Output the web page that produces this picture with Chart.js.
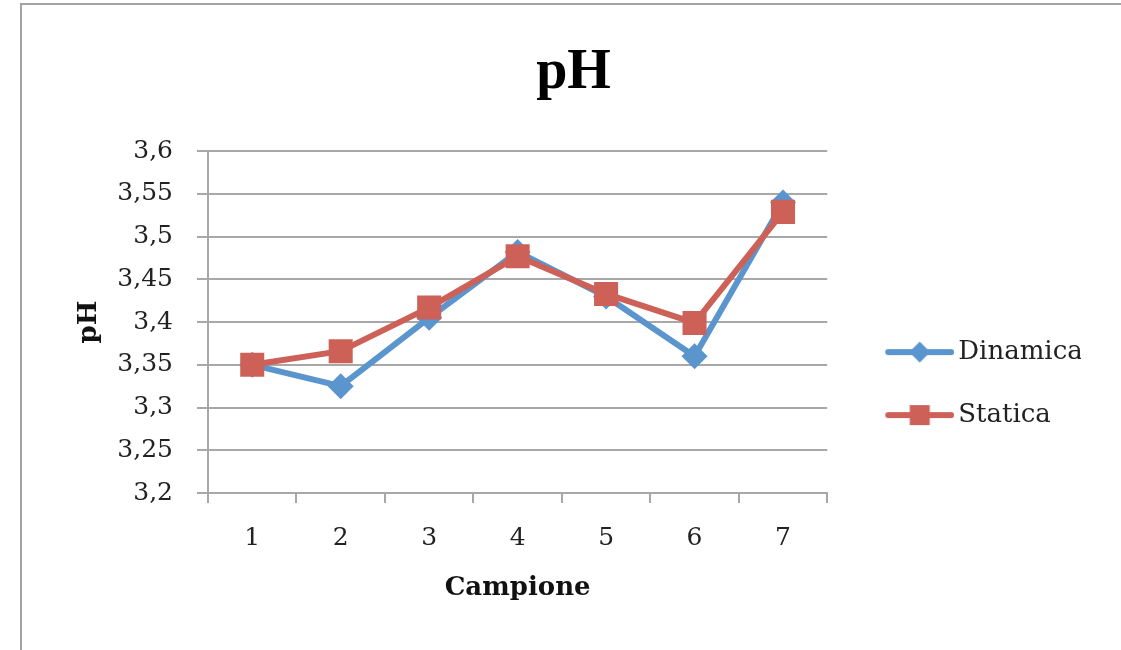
<!DOCTYPE html>
<html>
<head>
<meta charset="utf-8">
<title>pH</title>
<script src="https://cdn.jsdelivr.net/npm/chart.js@4.4.1/dist/chart.umd.min.js"></script>
<style>
  html, body { margin: 0; padding: 0; background: #fff; overflow: hidden; }
  #frame {
    position: absolute; left: 20px; top: 3px;
    width: 1099px; height: 645px;
    border-left: 2px solid #a3a3a3; border-top: 2px solid #a3a3a3;
    overflow: hidden;
  }
  canvas { display: block; }
</style>
</head>
<body>
<div id="frame"><canvas id="phChart" width="1099" height="645"></canvas></div>
<script>
// ===== Data =====
const campioni = ['1', '2', '3', '4', '5', '6', '7'];
const dinamica = [3.35, 3.325, 3.405, 3.482, 3.43, 3.36, 3.54];
const statica = [3.35, 3.366, 3.417, 3.477, 3.433, 3.399, 3.529];
const yTicks = [3.2, 3.25, 3.3, 3.35, 3.4, 3.45, 3.5, 3.55, 3.6];

const BLUE = '#5a95cd';
const RED = '#cd6158';
const GRID = '#a8a8a8';
const TEXT = '#222';
const SERIF = "'DejaVu Serif', serif";

// legend icon = short line with the marker in the middle (spreadsheet style)
function legendIcon(color, shape) {
  const c = document.createElement('canvas');
  c.width = 99;
  c.height = 24;
  const ctx = c.getContext('2d');
  ctx.strokeStyle = color;
  ctx.fillStyle = color;
  ctx.lineWidth = 6;
  ctx.lineCap = 'round';
  ctx.beginPath();
  ctx.moveTo(33, 12);
  ctx.lineTo(96, 12);
  ctx.stroke();
  ctx.beginPath();
  if (shape === 'diamond') {
    ctx.moveTo(64.5, 1.5);
    ctx.lineTo(75, 12);
    ctx.lineTo(64.5, 22.5);
    ctx.lineTo(54, 12);
    ctx.closePath();
  } else {
    ctx.rect(54.5, 2, 20, 20);
  }
  ctx.fill();
  return c;
}

const legendIcons = [legendIcon(BLUE, 'diamond'), legendIcon(RED, 'square')];

// ===== Chart =====
new Chart(document.getElementById('phChart'), {
  type: 'line',
  data: {
    labels: campioni,
    datasets: [
      {
        label: 'Dinamica',
        data: dinamica,
        borderColor: BLUE,
        backgroundColor: BLUE,
        borderWidth: 6,
        borderJoinStyle: 'round',
        pointStyle: 'rectRot',
        pointRadius: 13,
        pointBorderWidth: 0,
        order: 1 // drawn below Statica
      },
      {
        label: 'Statica',
        data: statica,
        borderColor: RED,
        backgroundColor: RED,
        borderWidth: 6,
        borderJoinStyle: 'round',
        pointStyle: 'rect',
        pointRadius: 17,
        pointBorderWidth: 0,
        order: 0
      }
    ]
  },
  options: {
    responsive: false,
    animation: false,
    events: [],
    layout: { padding: { left: 44, right: 40, top: 0, bottom: 46 } },
    plugins: {
      title: {
        display: true,
        text: 'pH',
        color: '#000',
        font: { family: "'Liberation Serif', serif", size: 56, weight: 'bold' },
        padding: { top: 35, bottom: 44 }
      },
      legend: {
        position: 'right',
        fullSize: false,
        align: 'center',
        // empty title only used as a spacer to push the items down
        title: { display: true, text: '', font: { size: 10 }, padding: { top: 111, bottom: 0 } },
        labels: {
          usePointStyle: true,
          pointStyleWidth: 81,
          padding: 37,
          color: TEXT,
          font: { family: SERIF, size: 26 },
          generateLabels: chart => chart.data.datasets.map((ds, i) => ({
            text: ds.label,
            pointStyle: legendIcons[i],
            datasetIndex: i,
            fontColor: TEXT,
            hidden: false,
            lineWidth: 0,
            strokeStyle: ds.borderColor,
            fillStyle: ds.borderColor
          }))
        }
      },
      tooltip: { enabled: false }
    },
    scales: {
      x: {
        offset: true,
        afterFit: scale => { scale.height = 111; },
        grid: { offset: true, drawOnChartArea: false, drawTicks: true, tickLength: 10, color: GRID, lineWidth: 2 },
        border: { color: GRID, width: 2 },
        ticks: { color: TEXT, font: { family: SERIF, size: 25 }, padding: 20 },
        title: {
          display: true,
          text: 'Campione',
          color: '#111',
          font: { family: SERIF, size: 26, weight: 'bold' },
          padding: { top: 19, bottom: 0 }
        }
      },
      y: {
        min: 3.2,
        max: 3.6,
        afterBuildTicks: scale => {
          scale.ticks = yTicks.map(v => ({ value: v }));
        },
        afterFit: scale => { scale.width = 142; },
        grid: { color: GRID, lineWidth: 2, tickLength: 11 },
        border: { color: GRID, width: 2 },
        ticks: {
          color: TEXT,
          font: { family: SERIF, size: 25 },
          padding: 24,
          callback: v => String(v).replace('.', ',')
        },
        title: {
          display: true,
          text: 'pH',
          color: '#111',
          font: { family: SERIF, size: 26, weight: 'bold' },
          padding: { top: 8, bottom: 12 }
        }
      }
    }
  }
});
</script>
</body>
</html>
